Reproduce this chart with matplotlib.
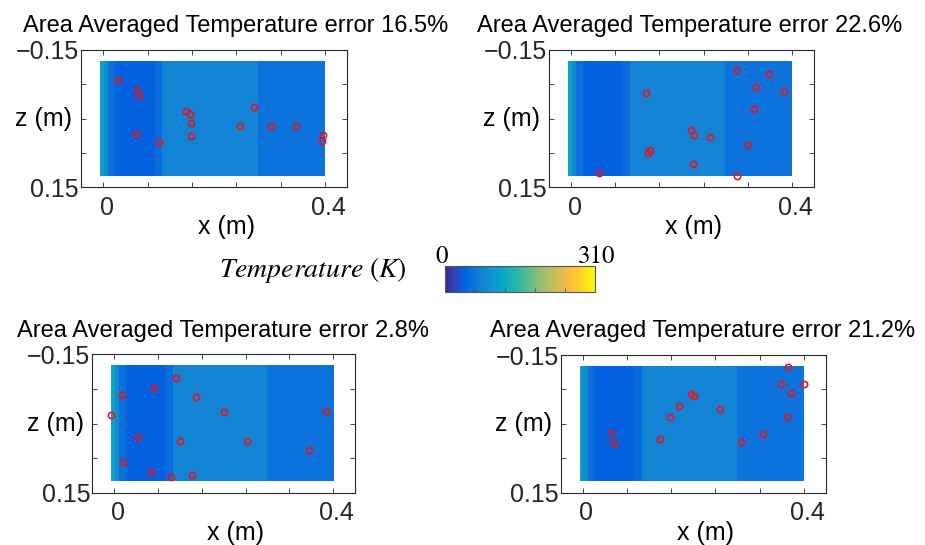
import matplotlib
matplotlib.use("Agg")
import matplotlib.pyplot as plt
import numpy as np
from matplotlib.colors import LinearSegmentedColormap, Normalize
from matplotlib.cm import ScalarMappable
from matplotlib.transforms import blended_transform_factory, ScaledTranslation

# ---- data ----
titles = [
    "Area Averaged Temperature error 16.5%",
    "Area Averaged Temperature error 22.6%",
    "Area Averaged Temperature error 2.8%",
    "Area Averaged Temperature error 21.2%",
]

# temperature bands along x (same field in every panel)
band_edges = [-0.005, 0.001, 0.009, 0.021, 0.093, 0.107, 0.279, 0.401]
band_temp = [116, 84, 56, 39, 50, 77, 59]
z_edges = [-0.126, 0.125]

# sensor locations (x, z) for each panel
sensors_x = [
    [0.026, 0.061, 0.065, 0.059, 0.101, 0.150, 0.156, 0.159, 0.159, 0.247,
     0.273, 0.303, 0.348, 0.396, 0.394],
    [0.300, 0.359, 0.335, 0.385, 0.331, 0.135, 0.218, 0.222, 0.251, 0.321,
     0.143, 0.139, 0.220, 0.050, 0.301],
    [-0.005, 0.014, 0.072, 0.113, 0.149, 0.200, 0.387, 0.043, 0.120, 0.243,
     0.356, 0.016, 0.068, 0.104, 0.143],
    [0.372, 0.359, 0.401, 0.376, 0.369, 0.196, 0.202, 0.174, 0.157, 0.249,
     0.051, 0.056, 0.139, 0.287, 0.326],
]
sensors_z = [
    [-0.085, -0.063, -0.049, 0.034, 0.050, -0.017, -0.010, 0.009, 0.039, 0.017,
     -0.026, 0.017, 0.015, 0.035, 0.048],
    [-0.107, -0.098, -0.070, -0.061, -0.021, -0.057, 0.025, 0.036, 0.041, 0.058,
     0.068, 0.074, 0.098, 0.118, 0.125],
    [-0.018, -0.062, -0.078, -0.099, -0.057, -0.025, -0.027, 0.030, 0.038, 0.038,
     0.057, 0.083, 0.105, 0.115, 0.112],
    [-0.123, -0.087, -0.087, -0.067, -0.015, -0.065, -0.061, -0.039, -0.016, -0.033,
     0.019, 0.042, 0.032, 0.040, 0.023],
]

t_min, t_max = 0, 310

# ---- parula-like colormap ----
parula = LinearSegmentedColormap.from_list("parula", [
    (0.000, (0.2081, 0.1663, 0.5292)),
    (0.063, (0.1959, 0.2645, 0.7279)),
    (0.127, (0.0117, 0.3875, 0.8820)),
    (0.254, (0.0793, 0.5200, 0.8312)),
    (0.381, (0.0228, 0.6535, 0.7768)),
    (0.508, (0.2178, 0.7250, 0.6193)),
    (0.635, (0.5709, 0.7485, 0.4494)),
    (0.762, (0.8507, 0.7299, 0.3360)),
    (0.841, (0.9938, 0.7455, 0.2403)),
    (0.889, (0.9880, 0.8066, 0.1794)),
    (1.000, (0.9763, 0.9831, 0.0538)),
])
norm = Normalize(t_min, t_max)

plt.rcParams["font.family"] = ["Liberation Sans", "DejaVu Sans"]
plt.rcParams["mathtext.fontset"] = "stix"

W, H = 925, 545
fig = plt.figure(figsize=(W / 100, H / 100), dpi=100)


def px_rect(left, top, right, bottom):
    return [left / W, 1 - bottom / H, (right - left) / W, (bottom - top) / H]


# axes boxes in pixels: left, top, right, bottom ; title left x, title baseline y
panels = [
    ((81, 50, 347, 187.3), (22.7, 32.3)),
    ((549, 50, 814, 187.3), (476.7, 32.3)),
    ((92.3, 354.3, 355, 492.7), (17.3, 337.3)),
    ((560.7, 355, 826, 492.7), (490, 337.3)),
]

edge_col = "#262626"
shift = ScaledTranslation(3.5 / 100, 0, fig.dpi_scale_trans)
for i, (box, tpos) in enumerate(panels):
    ax = fig.add_axes(px_rect(*box))
    ax.pcolormesh(band_edges, z_edges, np.array([band_temp]), cmap=parula,
                  norm=norm, shading="flat")
    ax.plot(sensors_x[i], sensors_z[i], "o", mfc="none", mec="#e3151f",
            ms=4.5, mew=1.2, ls="none")
    ax.set_xlim(-0.04, 0.44)
    ax.set_ylim(0.15, -0.15)
    ax.set_xticks(np.linspace(0, 0.4, 6))
    ax.set_xticklabels(["0", "", "", "", "", "0.4"])
    ax.set_yticks([-0.15, -0.075, 0, 0.075, 0.15])
    ax.set_yticklabels(["\u22120.15", "", "", "", "0.15"])
    ax.tick_params(direction="in", length=3.5, width=0.6, colors=edge_col,
                   labelsize=18, top=True, right=True)
    ax.tick_params(axis="y", pad=1.5)
    ax.tick_params(axis="x", pad=6)
    for lbl in ax.get_xticklabels():
        lbl.set_transform(lbl.get_transform() + shift)
    for s in ax.spines.values():
        s.set_color(edge_col)
        s.set_linewidth(0.8)
    ax.text(-0.056, 0, "z (m)", ha="right", va="center", fontsize=18)
    tr = blended_transform_factory(ax.transData, ax.transAxes)
    ax.text(0.222, -0.29, "x (m)", transform=tr, ha="center", va="center",
            fontsize=18)
    fig.text(tpos[0] / W, 1 - tpos[1] / H, titles[i], ha="left",
             va="baseline", fontsize=17)

# ---- colorbar ----
cax = fig.add_axes(px_rect(445, 266, 595, 292.3))
cb = fig.colorbar(ScalarMappable(norm=norm, cmap=parula), cax=cax,
                  orientation="horizontal")
cb.set_ticks(np.linspace(t_min, t_max, 6))
cax.tick_params(direction="in", length=3, width=0.6, colors="#555555",
                labelbottom=False)
cb.outline.set_edgecolor("#555555")
cb.outline.set_linewidth(0.8)
fig.text(441.5 / W, 1 - 263 / H, str(t_min), ha="center", va="baseline",
         fontsize=18, family="STIXGeneral")
fig.text(597 / W, 1 - 263 / H, str(t_max), ha="center", va="baseline",
         fontsize=18, family="STIXGeneral")
fig.text(406.7 / W, 1 - 276.7 / H, r"$Temperature\ (K)$", ha="right",
         va="baseline", fontsize=20)

fig.savefig("out.png", dpi=100)
